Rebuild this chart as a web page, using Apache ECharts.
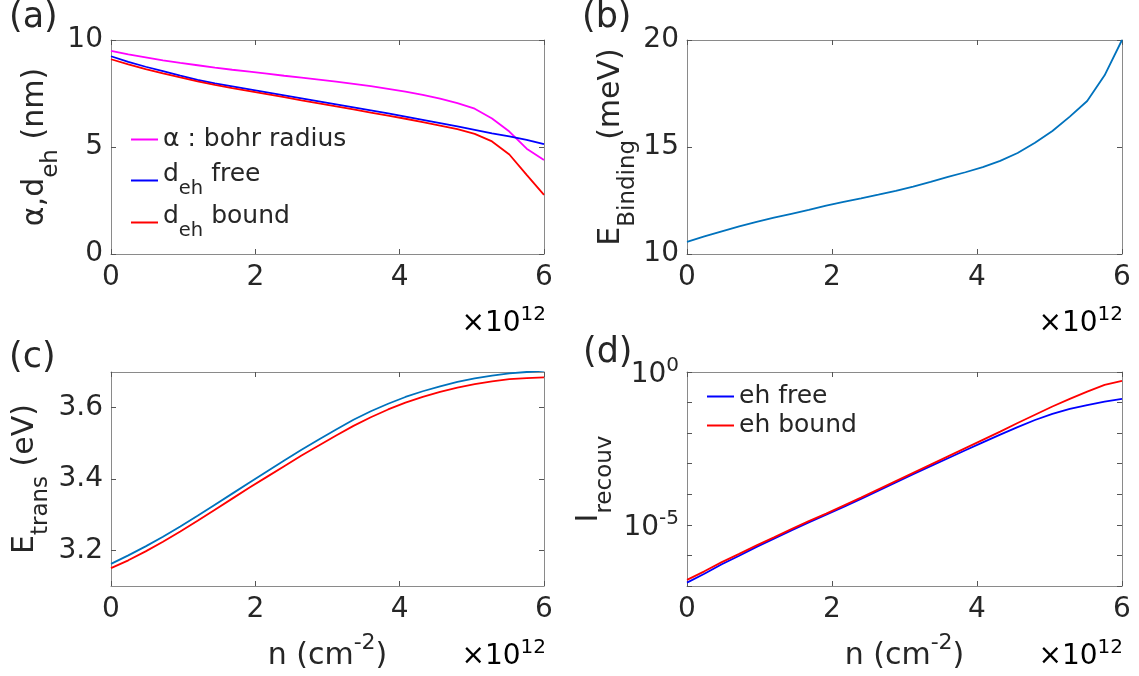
<!DOCTYPE html>
<html><head><meta charset="utf-8">
<script src="https://cdn.jsdelivr.net/npm/echarts@6/dist/echarts.min.js"></script>
<style>html,body{margin:0;padding:0;background:#fff}#c{width:1139px;height:676px}</style>
</head><body><div id="c"></div><script>
// n in units of 1e12 cm^-2
const nValues = [0, 0.24, 0.48, 0.72, 0.96, 1.2, 1.44, 1.68, 1.92, 2.16, 2.4, 2.64, 2.88, 3.12, 3.36, 3.6, 3.84, 4.08, 4.32, 4.56, 4.8, 5.04, 5.28, 5.52, 5.76, 6.0];
// (a) nm
const bohrRadius = [9.49, 9.33, 9.19, 9.05, 8.93, 8.82, 8.71, 8.61, 8.52, 8.43, 8.33, 8.24, 8.15, 8.05, 7.95, 7.84, 7.72, 7.59, 7.44, 7.26, 7.05, 6.79, 6.33, 5.72, 4.92, 4.39];
const dehFree = [9.24, 8.98, 8.75, 8.54, 8.33, 8.14, 7.97, 7.83, 7.69, 7.55, 7.41, 7.27, 7.13, 6.99, 6.85, 6.71, 6.57, 6.42, 6.27, 6.12, 5.96, 5.80, 5.64, 5.50, 5.33, 5.13];
const dehBound = [9.10, 8.86, 8.64, 8.44, 8.25, 8.07, 7.90, 7.75, 7.61, 7.47, 7.33, 7.18, 7.04, 6.90, 6.76, 6.61, 6.47, 6.32, 6.16, 6.00, 5.83, 5.61, 5.26, 4.65, 3.70, 2.76];
// (b) meV
const eBinding = [10.57, 10.82, 11.06, 11.29, 11.50, 11.70, 11.88, 12.06, 12.26, 12.44, 12.60, 12.77, 12.95, 13.15, 13.37, 13.60, 13.82, 14.06, 14.35, 14.72, 15.20, 15.75, 16.42, 17.15, 18.35, 20.0];
// (c) eV
const eTransFree = [3.162, 3.186, 3.211, 3.238, 3.267, 3.297, 3.328, 3.359, 3.390, 3.421, 3.452, 3.482, 3.511, 3.539, 3.566, 3.590, 3.611, 3.630, 3.646, 3.660, 3.672, 3.682, 3.690, 3.696, 3.700, 3.704];
const eTransBound = [3.150, 3.172, 3.197, 3.224, 3.253, 3.283, 3.314, 3.345, 3.376, 3.406, 3.436, 3.466, 3.494, 3.522, 3.549, 3.573, 3.595, 3.614, 3.630, 3.644, 3.656, 3.666, 3.674, 3.680, 3.683, 3.685];
// (d)
const iRecouvFree = [1.29e-7, 2.51e-7, 5.13e-7, 9.77e-7, 1.91e-6, 3.55e-6, 6.61e-6, 1.20e-5, 2.14e-5, 3.89e-5, 7.08e-5, 1.32e-4, 2.45e-4, 4.57e-4, 8.32e-4, 1.51e-3, 2.75e-3, 5.01e-3, 8.91e-3, 1.58e-2, 2.69e-2, 4.27e-2, 6.17e-2, 8.32e-2, 1.07e-1, 1.32e-1];
const iRecouvBound = [1.58e-7, 3.02e-7, 6.03e-7, 1.12e-6, 2.14e-6, 3.89e-6, 7.24e-6, 1.32e-5, 2.34e-5, 4.27e-5, 7.76e-5, 1.45e-4, 2.69e-4, 5.01e-4, 9.33e-4, 1.74e-3, 3.24e-3, 6.03e-3, 1.12e-2, 2.14e-2, 3.98e-2, 7.41e-2, 1.32e-1, 2.29e-1, 3.80e-1, 5.13e-1];

const xTicks = [0, 2, 4, 6];
const yTicksA = [0, 5, 10];
const yTicksB = [10, 15, 20];
const yTicksC = [3.2, 3.4, 3.6];
const yTicksD = [1e-7, 1e-6, 1e-5, 1e-4, 1e-3, 1e-2, 1e-1, 1];
const yLabelsD = [1e-5, 1];

const F = 'DejaVu Sans', TXT = '#262626', AX = '#8a8a8a', TK = '#555555';

function subRich(B, S, pS) {
  return {
    b: {fontSize: B, fontFamily: F, color: TXT, verticalAlign: 'top', padding: [0, 0, 0, 0]},
    s: {fontSize: S, fontFamily: F, color: TXT, verticalAlign: 'top', padding: [pS, 0, 0, 0]}
  };
}
function supRich(B, S, pB) {
  return {
    b: {fontSize: B, fontFamily: F, color: TXT, verticalAlign: 'top', padding: [pB, 0, 0, 0]},
    s: {fontSize: S, fontFamily: F, color: TXT, verticalAlign: 'top', padding: [0, 0, 0, 0]}
  };
}

const grids = [
  {left: 111, top: 40, width: 433, height: 214},
  {left: 687, top: 40, width: 435, height: 214},
  {left: 111, top: 372, width: 433, height: 214},
  {left: 687, top: 372, width: 435, height: 214}
].map(g => Object.assign({outerBoundsMode: 'none', containLabel: false}, g));

function xAxes(g, withName) {
  const bottom = {
    type: 'value', gridIndex: g, min: 0, max: 6, interval: 2, position: 'bottom',
    axisLine: {show: true, onZero: false, lineStyle: {color: AX, width: 1}},
    axisTick: {show: true, inside: true, length: 5, customValues: xTicks, lineStyle: {color: TK}},
    axisLabel: {customValues: xTicks, color: TXT, fontSize: 28, fontFamily: F, margin: 10},
    splitLine: {show: false}
  };
  if (withName) {
    bottom.name = '{b|n (cm}{s|-2}{b|)}';
    bottom.nameLocation = 'middle';
    bottom.nameGap = 46;
    bottom.nameTextStyle = {rich: supRich(30, 22, 9)};
  }
  const top = {
    type: 'value', gridIndex: g, min: 0, max: 6, interval: 2, position: 'top',
    axisLine: {show: true, onZero: false, lineStyle: {color: AX, width: 1}},
    axisTick: {show: true, inside: true, length: 5, customValues: xTicks, lineStyle: {color: TK}},
    axisLabel: {show: false}, splitLine: {show: false}
  };
  return [bottom, top];
}

function yAxes(g, type, min, max, ticks, labels, name, nameGap, nameRich, fmt, labelRich) {
  const left = {
    type: type, gridIndex: g, min: min, max: max, position: 'left',
    axisLine: {show: true, onZero: false, lineStyle: {color: AX, width: 1}},
    axisTick: {show: true, inside: true, length: 5, customValues: ticks, lineStyle: {color: TK}},
    axisLabel: {customValues: labels, color: TXT, fontSize: 28, fontFamily: F, margin: 8},
    splitLine: {show: false},
    name: name, nameLocation: 'middle', nameRotate: 90, nameGap: nameGap,
    nameTextStyle: {rich: nameRich}
  };
  if (fmt) { left.axisLabel.formatter = fmt; left.axisLabel.rich = labelRich; }
  const right = {
    type: type, gridIndex: g, min: min, max: max, position: 'right',
    axisLine: {show: true, onZero: false, lineStyle: {color: AX, width: 1}},
    axisTick: {show: true, inside: true, length: 5, customValues: ticks, lineStyle: {color: TK}},
    axisLabel: {show: false}, splitLine: {show: false}
  };
  return [left, right];
}

const xAxis = [].concat(xAxes(0, false), xAxes(1, false), xAxes(2, true), xAxes(3, true));
const yAxis = [].concat(
  yAxes(0, 'value', 0, 10, yTicksA, yTicksA, '{b|α,d}{s|eh}{b| (nm)}', 48, subRich(30, 23, 20)),
  yAxes(1, 'value', 10, 20, yTicksB, yTicksB, '{b|E}{s|Binding}{b|(meV)}', 46, subRich(30, 23, 20)),
  yAxes(2, 'value', 3.1, 3.7, yTicksC, yTicksC, '{b|E}{s|trans}{b| (eV)}', 58, subRich(30, 23, 20)),
  yAxes(3, 'log', 1e-7, 1, yTicksD, yLabelsD, '{b|I}{s|recouv}', 70, subRich(30, 23, 20),
    v => (Math.abs(v - 1) < 1e-9 ? '{b|10}{s|0}' : '{b|10}{s|-5}'), supRich(28, 20, 5))
);

function pts(arr) { return nValues.map((x, i) => [x, arr[i]]); }
function line(name, arr, color, xi, yi) {
  return {name: name, type: 'line', xAxisIndex: xi, yAxisIndex: yi, data: pts(arr),
    showSymbol: false, symbol: 'none', clip: true, lineStyle: {color: color, width: 1.8},
    itemStyle: {color: color}, emphasis: {disabled: true}};
}

const series = [
  line('α : bohr radius', bohrRadius, '#FF00FF', 0, 0),
  line('d_eh free', dehFree, '#0000FF', 0, 0),
  line('d_eh bound', dehBound, '#FF0000', 0, 0),
  line('E_Binding', eBinding, '#0072BD', 2, 2),
  line('E_trans free', eTransFree, '#0072BD', 4, 4),
  line('E_trans bound', eTransBound, '#FF0000', 4, 4),
  line('eh free', iRecouvFree, '#0000FF', 6, 6),
  line('eh bound', iRecouvBound, '#FF0000', 6, 6)
];

function leg(name, left, top, fmt, rich) {
  const l = {data: [name], left: left, top: top, orient: 'vertical', padding: 0, icon: 'rect',
    itemWidth: 27, itemHeight: 2, selectedMode: false,
    textStyle: {fontSize: 25, color: TXT, fontFamily: F}};
  if (fmt) { l.formatter = fmt; l.textStyle.rich = rich; }
  return l;
}
const legRich = subRich(25, 19.5, 17);
const legend = [
  leg('α : bohr radius', 131, 127),
  leg('d_eh free', 131, 162, () => '{b|d}{s|eh}{b| free}', legRich),
  leg('d_eh bound', 131, 204, () => '{b|d}{s|eh}{b| bound}', legRich),
  leg('eh free', 707, 384),
  leg('eh bound', 707, 413)
];

const tRich = supRich(28, 20, 5);
function panelLabel(t, x, y) {
  return {type: 'text', x: x, y: y, style: {text: t, font: '35px "DejaVu Sans"', fill: TXT}};
}
function times(x, y) {
  return {type: 'text', x: x, y: y, style: {text: '{b|×10}{s|12}', rich: tRich, align: 'right', verticalAlign: 'middle'}};
}
const graphic = [
  panelLabel('(a)', 9, 0), panelLabel('(b)', 582, 0), panelLabel('(c)', 9, 340), panelLabel('(d)', 583, 335),
  times(546, 321), times(1123, 321), times(546, 654), times(1123, 654)
];

const chart = echarts.init(document.getElementById('c'), null, {renderer: 'canvas'});
chart.setOption({
  animation: false, backgroundColor: '#ffffff',
  grid: grids, xAxis: xAxis, yAxis: yAxis, series: series, legend: legend, graphic: graphic
});
</script></body></html>
